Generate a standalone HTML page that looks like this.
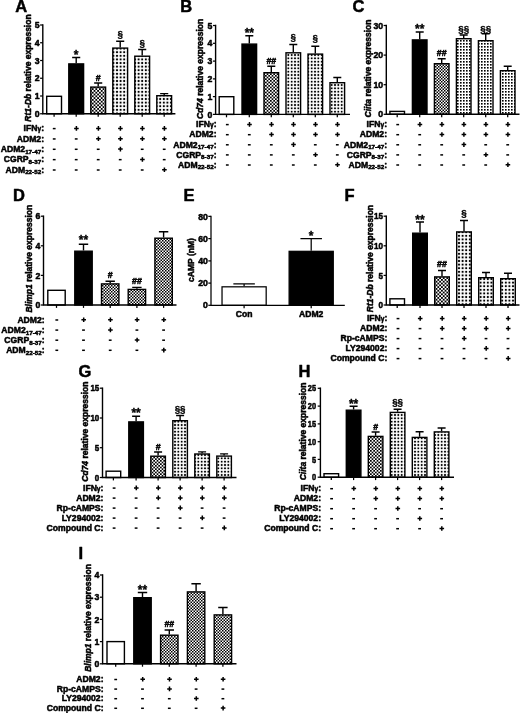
<!DOCTYPE html>
<html lang="en">
<head>
<meta charset="utf-8">
<title>Figure</title>
<style>
html,body{margin:0;padding:0;background:#fff;}
body{width:520px;height:713px;overflow:hidden;}
svg{display:block;}

text{font-family:"Liberation Sans",Arial,Helvetica,sans-serif;fill:#000;stroke:#000;stroke-width:0.5;stroke-linejoin:round;}
.b{font-weight:bold;}
.m{text-anchor:middle;}
.e{text-anchor:end;}
.l{stroke:#000;stroke-width:var(--lw,1.4);fill:none;}
.br{stroke:#000;stroke-width:var(--lw,1.4);}
.ap{stroke-width:0.3;}.ah{stroke-width:0.5;}.as{stroke-width:0.35;}
.tk{stroke:#000;stroke-width:1.25;fill:none;}
.pm{stroke:#000;stroke-width:1.5;fill:none;}
</style>
</head>
<body>
<svg width="520" height="713" viewBox="0 0 520 713">
<defs>
<pattern id="cA" x="0" y="0" width="3.6" height="3.6" patternUnits="userSpaceOnUse"><rect width="3.6" height="3.6" fill="#fff"/><rect width="1.8" height="1.8" fill="#000"/><rect x="1.8" y="1.8" width="1.8" height="1.8" fill="#000"/></pattern>
<pattern id="dA" width="3.6" height="3.6" patternUnits="userSpaceOnUse"><rect width="3.6" height="3.6" fill="#fff"/><rect x="0.83" y="0.83" width="1.94" height="1.94" fill="#000"/></pattern>
<pattern id="cB" x="0" y="0" width="3.3333" height="3.3333" patternUnits="userSpaceOnUse"><rect width="3.3333" height="3.3333" fill="#fff"/><rect width="1.67" height="1.67" fill="#000"/><rect x="1.67" y="1.67" width="1.67" height="1.67" fill="#000"/></pattern>
<pattern id="dB" width="3.3333" height="3.3333" patternUnits="userSpaceOnUse"><rect width="3.3333" height="3.3333" fill="#fff"/><rect x="0.77" y="0.77" width="1.8" height="1.8" fill="#000"/></pattern>
<pattern id="cC" x="0" y="0" width="3.0" height="3.0" patternUnits="userSpaceOnUse"><rect width="3.0" height="3.0" fill="#fff"/><rect width="1.5" height="1.5" fill="#000"/><rect x="1.5" y="1.5" width="1.5" height="1.5" fill="#000"/></pattern>
<pattern id="dC" width="3.0" height="3.0" patternUnits="userSpaceOnUse"><rect width="3.0" height="3.0" fill="#fff"/><rect x="1.0" y="1.0" width="1.62" height="1.62" fill="#000"/></pattern>
<pattern id="cD" x="0" y="0" width="3.0" height="3.0" patternUnits="userSpaceOnUse"><rect width="3.0" height="3.0" fill="#fff"/><rect width="1.5" height="1.5" fill="#000"/><rect x="1.5" y="1.5" width="1.5" height="1.5" fill="#000"/></pattern>
<pattern id="dD" width="3.0" height="3.0" patternUnits="userSpaceOnUse"><rect width="3.0" height="3.0" fill="#fff"/><rect x="1.0" y="1.0" width="1.62" height="1.62" fill="#000"/></pattern>
<pattern id="cF" x="0" y="0" width="3.6" height="3.6" patternUnits="userSpaceOnUse"><rect width="3.6" height="3.6" fill="#fff"/><rect width="1.8" height="1.8" fill="#000"/><rect x="1.8" y="1.8" width="1.8" height="1.8" fill="#000"/></pattern>
<pattern id="dF" width="3.6" height="3.6" patternUnits="userSpaceOnUse"><rect width="3.6" height="3.6" fill="#fff"/><rect x="0.83" y="0.83" width="1.94" height="1.94" fill="#000"/></pattern>
<pattern id="cG" x="0" y="0" width="3.3333" height="3.3333" patternUnits="userSpaceOnUse"><rect width="3.3333" height="3.3333" fill="#fff"/><rect width="1.67" height="1.67" fill="#000"/><rect x="1.67" y="1.67" width="1.67" height="1.67" fill="#000"/></pattern>
<pattern id="dG" width="3.3333" height="3.3333" patternUnits="userSpaceOnUse"><rect width="3.3333" height="3.3333" fill="#fff"/><rect x="0.77" y="0.77" width="1.8" height="1.8" fill="#000"/></pattern>
<pattern id="cH" x="0" y="0" width="3.3333" height="3.3333" patternUnits="userSpaceOnUse"><rect width="3.3333" height="3.3333" fill="#fff"/><rect width="1.67" height="1.67" fill="#000"/><rect x="1.67" y="1.67" width="1.67" height="1.67" fill="#000"/></pattern>
<pattern id="dH" width="3.3333" height="3.3333" patternUnits="userSpaceOnUse"><rect width="3.3333" height="3.3333" fill="#fff"/><rect x="0.77" y="0.77" width="1.8" height="1.8" fill="#000"/></pattern>
<pattern id="cI" x="0" y="0" width="3.0" height="3.0" patternUnits="userSpaceOnUse"><rect width="3.0" height="3.0" fill="#fff"/><rect width="1.5" height="1.5" fill="#000"/><rect x="1.5" y="1.5" width="1.5" height="1.5" fill="#000"/></pattern>
<pattern id="dI" width="3.0" height="3.0" patternUnits="userSpaceOnUse"><rect width="3.0" height="3.0" fill="#fff"/><rect x="1.0" y="1.0" width="1.62" height="1.62" fill="#000"/></pattern>
</defs>
<rect width="520" height="713" fill="#fff"/>
<g id="fig">
<g>
<text x="15.2" y="12.2" font-size="16.5" class="b">A</text>
<rect x="46.7" y="96.3" width="14.8" height="17.45" fill="#fff" class="br"/>
<path d="M54.1 113.75v2.9" class="tk"/>
<path d="M76.2 63.2V57.5M72.15 57.5H80.25" class="l"/>
<rect x="68.8" y="63.9" width="14.8" height="49.85" fill="#000" class="br"/>
<text x="76.2" y="59.22" font-size="12" class="b m as">*</text>
<path d="M76.2 113.75v2.9" class="tk"/>
<path d="M98.2 86.4V83M94.15 83H102.25" class="l"/>
<rect x="90.8" y="87.1" width="14.8" height="26.65" fill="url(#cA)" class="br"/>
<text x="98.2" y="80.5" font-size="8.8" class="b m ah">#</text>
<path d="M98.2 113.75v2.9" class="tk"/>
<path d="M120.2 47.4V41.2M116.15 41.2H124.25" class="l"/>
<rect x="112.8" y="48.1" width="14.8" height="65.65" fill="url(#dA)" class="br"/>
<text x="120.2" y="36.93" font-size="9.8" class="b m ap">&#167;</text>
<path d="M120.2 113.75v2.9" class="tk"/>
<path d="M142.2 55.5V49.5M138.15 49.5H146.25" class="l"/>
<rect x="134.8" y="56.2" width="14.8" height="57.55" fill="url(#dA)" class="br"/>
<text x="142.2" y="45.63" font-size="9.8" class="b m ap">&#167;</text>
<path d="M142.2 113.75v2.9" class="tk"/>
<path d="M164.2 95V93.6M160.15 93.6H168.25" class="l"/>
<rect x="156.8" y="95.7" width="14.8" height="18.05" fill="url(#dA)" class="br"/>
<path d="M164.2 113.75v2.9" class="tk"/>
<path d="M42.8 24.3V113.75M42.1 113.75H175.4" class="l"/>
<path d="M42.8 25h-2.7" class="tk"/>
<text transform="translate(39.6 28.1) scale(1.0 1)" font-size="8.7" class="b e">5</text>
<path d="M42.8 42.75h-2.7" class="tk"/>
<text transform="translate(39.6 45.85) scale(1.0 1)" font-size="8.7" class="b e">4</text>
<path d="M42.8 60.5h-2.7" class="tk"/>
<text transform="translate(39.6 63.6) scale(1.0 1)" font-size="8.7" class="b e">3</text>
<path d="M42.8 78.25h-2.7" class="tk"/>
<text transform="translate(39.6 81.35) scale(1.0 1)" font-size="8.7" class="b e">2</text>
<path d="M42.8 96h-2.7" class="tk"/>
<text transform="translate(39.6 99.1) scale(1.0 1)" font-size="8.7" class="b e">1</text>
<path d="M42.8 113.75h-2.7" class="tk"/>
<text transform="translate(39.6 116.85) scale(1.0 1)" font-size="8.7" class="b e">0</text>
<text transform="translate(31.3 68) rotate(-90)" font-size="8.5" class="b m"><tspan font-style="italic">Rt1-Db</tspan> relative expression</text>
<text x="44" y="131.3" font-size="8.6" class="b e">IFN<tspan font-size="6.6">&#947;</tspan>:</text>
<path d="M52.8 128.6h2.8" class="pm"/>
<path d="M74.1 128.4h4.6M76.4 126.1v4.6" class="pm"/>
<path d="M96.1 128.4h4.6M98.4 126.1v4.6" class="pm"/>
<path d="M118.1 128.4h4.6M120.4 126.1v4.6" class="pm"/>
<path d="M140.1 128.4h4.6M142.4 126.1v4.6" class="pm"/>
<path d="M162.1 128.4h4.6M164.4 126.1v4.6" class="pm"/>
<text x="44" y="141.65" font-size="8.6" class="b e">ADM2:</text>
<path d="M52.8 138.95h2.8" class="pm"/>
<path d="M74.8 138.95h2.8" class="pm"/>
<path d="M96.1 138.75h4.6M98.4 136.45v4.6" class="pm"/>
<path d="M118.1 138.75h4.6M120.4 136.45v4.6" class="pm"/>
<path d="M140.1 138.75h4.6M142.4 136.45v4.6" class="pm"/>
<path d="M162.1 138.75h4.6M164.4 136.45v4.6" class="pm"/>
<text x="44" y="152" font-size="8.6" class="b e">ADM2<tspan font-size="6.25" dy="1.7">17-47</tspan><tspan dy="-1.7">:</tspan></text>
<path d="M52.8 149.3h2.8" class="pm"/>
<path d="M74.8 149.3h2.8" class="pm"/>
<path d="M96.8 149.3h2.8" class="pm"/>
<path d="M118.1 149.1h4.6M120.4 146.8v4.6" class="pm"/>
<path d="M140.8 149.3h2.8" class="pm"/>
<path d="M162.8 149.3h2.8" class="pm"/>
<text x="44" y="162.35" font-size="8.6" class="b e">CGRP<tspan font-size="6.25" dy="1.7">8-37</tspan><tspan dy="-1.7">:</tspan></text>
<path d="M52.8 159.65h2.8" class="pm"/>
<path d="M74.8 159.65h2.8" class="pm"/>
<path d="M96.8 159.65h2.8" class="pm"/>
<path d="M118.8 159.65h2.8" class="pm"/>
<path d="M140.1 159.45h4.6M142.4 157.15v4.6" class="pm"/>
<path d="M162.8 159.65h2.8" class="pm"/>
<text x="44" y="172.7" font-size="8.6" class="b e">ADM<tspan font-size="6.25" dy="1.7">22-52</tspan><tspan dy="-1.7">:</tspan></text>
<path d="M52.8 170h2.8" class="pm"/>
<path d="M74.8 170h2.8" class="pm"/>
<path d="M96.8 170h2.8" class="pm"/>
<path d="M118.8 170h2.8" class="pm"/>
<path d="M140.8 170h2.8" class="pm"/>
<path d="M162.1 169.8h4.6M164.4 167.5v4.6" class="pm"/>
</g>
<g>
<text x="180.3" y="12.2" font-size="16.5" class="b">B</text>
<rect x="219.2" y="96.7" width="14.6" height="17.7" fill="#fff" class="br"/>
<path d="M226.5 114.4v2.9" class="tk"/>
<path d="M249.3 43.4V35.8M245.3 35.8H253.3" class="l"/>
<rect x="242" y="44.1" width="14.6" height="70.3" fill="#000" class="br"/>
<text x="249.3" y="36.72" font-size="12" class="b m as">**</text>
<path d="M249.3 114.4v2.9" class="tk"/>
<path d="M271.3 72V66.2M267.3 66.2H275.3" class="l"/>
<rect x="264" y="72.7" width="14.6" height="41.7" fill="url(#cB)" class="br"/>
<text x="271.3" y="63.7" font-size="8.8" class="b m ah">##</text>
<path d="M271.3 114.4v2.9" class="tk"/>
<path d="M293.3 52.1V44.5M289.3 44.5H297.3" class="l"/>
<rect x="286" y="52.8" width="14.6" height="61.6" fill="url(#dB)" class="br"/>
<text x="293.3" y="40.03" font-size="9.8" class="b m ap">&#167;</text>
<path d="M293.3 114.4v2.9" class="tk"/>
<path d="M315.3 53.4V46.2M311.3 46.2H319.3" class="l"/>
<rect x="308" y="54.1" width="14.6" height="60.3" fill="url(#dB)" class="br"/>
<text x="315.3" y="40.63" font-size="9.8" class="b m ap">&#167;</text>
<path d="M315.3 114.4v2.9" class="tk"/>
<path d="M337.3 82V77.5M333.3 77.5H341.3" class="l"/>
<rect x="330" y="82.7" width="14.6" height="31.7" fill="url(#dB)" class="br"/>
<path d="M337.3 114.4v2.9" class="tk"/>
<path d="M215.6 24.8V114.4M214.9 114.4H350" class="l"/>
<path d="M215.6 25.5h-2.7" class="tk"/>
<text transform="translate(212.4 28.6) scale(1.0 1)" font-size="8.7" class="b e">5</text>
<path d="M215.6 43.3h-2.7" class="tk"/>
<text transform="translate(212.4 46.4) scale(1.0 1)" font-size="8.7" class="b e">4</text>
<path d="M215.6 61.1h-2.7" class="tk"/>
<text transform="translate(212.4 64.2) scale(1.0 1)" font-size="8.7" class="b e">3</text>
<path d="M215.6 78.9h-2.7" class="tk"/>
<text transform="translate(212.4 82) scale(1.0 1)" font-size="8.7" class="b e">2</text>
<path d="M215.6 96.6h-2.7" class="tk"/>
<text transform="translate(212.4 99.7) scale(1.0 1)" font-size="8.7" class="b e">1</text>
<path d="M215.6 114.4h-2.7" class="tk"/>
<text transform="translate(212.4 117.5) scale(1.0 1)" font-size="8.7" class="b e">0</text>
<text transform="translate(202.6 68.9) rotate(-90)" font-size="8.5" class="b m"><tspan font-style="italic">Cd74</tspan> relative expression</text>
<text x="216.5" y="127.3" font-size="8.6" class="b e">IFN<tspan font-size="6.6">&#947;</tspan>:</text>
<path d="M225.9 124.6h2.8" class="pm"/>
<path d="M247.2 124.4h4.6M249.5 122.1v4.6" class="pm"/>
<path d="M269.2 124.4h4.6M271.5 122.1v4.6" class="pm"/>
<path d="M291.2 124.4h4.6M293.5 122.1v4.6" class="pm"/>
<path d="M313.2 124.4h4.6M315.5 122.1v4.6" class="pm"/>
<path d="M335.2 124.4h4.6M337.5 122.1v4.6" class="pm"/>
<text x="216.5" y="137.4" font-size="8.6" class="b e">ADM2:</text>
<path d="M225.9 134.7h2.8" class="pm"/>
<path d="M247.9 134.7h2.8" class="pm"/>
<path d="M269.2 134.5h4.6M271.5 132.2v4.6" class="pm"/>
<path d="M291.2 134.5h4.6M293.5 132.2v4.6" class="pm"/>
<path d="M313.2 134.5h4.6M315.5 132.2v4.6" class="pm"/>
<path d="M335.2 134.5h4.6M337.5 132.2v4.6" class="pm"/>
<text x="216.5" y="147.5" font-size="8.6" class="b e">ADM2<tspan font-size="6.25" dy="1.7">17-47</tspan><tspan dy="-1.7">:</tspan></text>
<path d="M225.9 144.8h2.8" class="pm"/>
<path d="M247.9 144.8h2.8" class="pm"/>
<path d="M269.9 144.8h2.8" class="pm"/>
<path d="M291.2 144.6h4.6M293.5 142.3v4.6" class="pm"/>
<path d="M313.9 144.8h2.8" class="pm"/>
<path d="M335.9 144.8h2.8" class="pm"/>
<text x="216.5" y="157.6" font-size="8.6" class="b e">CGRP<tspan font-size="6.25" dy="1.7">8-37</tspan><tspan dy="-1.7">:</tspan></text>
<path d="M225.9 154.9h2.8" class="pm"/>
<path d="M247.9 154.9h2.8" class="pm"/>
<path d="M269.9 154.9h2.8" class="pm"/>
<path d="M291.9 154.9h2.8" class="pm"/>
<path d="M313.2 154.7h4.6M315.5 152.4v4.6" class="pm"/>
<path d="M335.9 154.9h2.8" class="pm"/>
<text x="216.5" y="167.7" font-size="8.6" class="b e">ADM<tspan font-size="6.25" dy="1.7">22-52</tspan><tspan dy="-1.7">:</tspan></text>
<path d="M225.9 165h2.8" class="pm"/>
<path d="M247.9 165h2.8" class="pm"/>
<path d="M269.9 165h2.8" class="pm"/>
<path d="M291.9 165h2.8" class="pm"/>
<path d="M313.9 165h2.8" class="pm"/>
<path d="M335.2 164.8h4.6M337.5 162.5v4.6" class="pm"/>
</g>
<g>
<text x="352.6" y="12.1" font-size="16.5" class="b">C</text>
<rect x="389.9" y="111.4" width="14.6" height="2.9" fill="#fff" class="br"/>
<path d="M397.2 114.3v2.9" class="tk"/>
<path d="M419.7 39.2V32M415.7 32H423.7" class="l"/>
<rect x="412.4" y="39.9" width="14.6" height="74.4" fill="#000" class="br"/>
<text x="419.7" y="33.02" font-size="12" class="b m as">**</text>
<path d="M419.7 114.3v2.9" class="tk"/>
<path d="M441.7 63V58.7M437.7 58.7H445.7" class="l"/>
<rect x="434.4" y="63.7" width="14.6" height="50.6" fill="url(#cC)" class="br"/>
<text x="441.7" y="55.5" font-size="8.8" class="b m ah">##</text>
<path d="M441.7 114.3v2.9" class="tk"/>
<path d="M463.7 38V35M459.7 35H467.7" class="l"/>
<rect x="456.4" y="38.7" width="14.6" height="75.6" fill="url(#dC)" class="br"/>
<text x="463.7" y="32.33" font-size="9.8" class="b m ap">&#167;&#167;</text>
<path d="M463.7 114.3v2.9" class="tk"/>
<path d="M485.7 40V33.7M481.7 33.7H489.7" class="l"/>
<rect x="478.4" y="40.7" width="14.6" height="73.6" fill="url(#dC)" class="br"/>
<text x="485.7" y="32.33" font-size="9.8" class="b m ap">&#167;&#167;</text>
<path d="M485.7 114.3v2.9" class="tk"/>
<path d="M507.7 70V66.2M503.7 66.2H511.7" class="l"/>
<rect x="500.4" y="70.7" width="14.6" height="43.6" fill="url(#dC)" class="br"/>
<path d="M507.7 114.3v2.9" class="tk"/>
<path d="M386.3 24.8V114.3M385.6 114.3H519.5" class="l"/>
<path d="M386.3 25.5h-2.7" class="tk"/>
<text transform="translate(383.1 28.6) scale(1.0 1)" font-size="8.7" class="b e">30</text>
<path d="M386.3 55.1h-2.7" class="tk"/>
<text transform="translate(383.1 58.2) scale(1.0 1)" font-size="8.7" class="b e">20</text>
<path d="M386.3 84.7h-2.7" class="tk"/>
<text transform="translate(383.1 87.8) scale(1.0 1)" font-size="8.7" class="b e">10</text>
<path d="M386.3 114.3h-2.7" class="tk"/>
<text transform="translate(383.1 117.4) scale(1.0 1)" font-size="8.7" class="b e">0</text>
<text transform="translate(371.3 68.5) rotate(-90)" font-size="8.5" class="b m"><tspan font-style="italic">Ciita</tspan> relative expression</text>
<text x="387" y="127.3" font-size="8.6" class="b e">IFN<tspan font-size="6.6">&#947;</tspan>:</text>
<path d="M396.3 124.6h2.8" class="pm"/>
<path d="M417.6 124.4h4.6M419.9 122.1v4.6" class="pm"/>
<path d="M439.6 124.4h4.6M441.9 122.1v4.6" class="pm"/>
<path d="M461.6 124.4h4.6M463.9 122.1v4.6" class="pm"/>
<path d="M483.6 124.4h4.6M485.9 122.1v4.6" class="pm"/>
<path d="M505.6 124.4h4.6M507.9 122.1v4.6" class="pm"/>
<text x="387" y="137.4" font-size="8.6" class="b e">ADM2:</text>
<path d="M396.3 134.7h2.8" class="pm"/>
<path d="M418.3 134.7h2.8" class="pm"/>
<path d="M439.6 134.5h4.6M441.9 132.2v4.6" class="pm"/>
<path d="M461.6 134.5h4.6M463.9 132.2v4.6" class="pm"/>
<path d="M483.6 134.5h4.6M485.9 132.2v4.6" class="pm"/>
<path d="M505.6 134.5h4.6M507.9 132.2v4.6" class="pm"/>
<text x="387" y="147.5" font-size="8.6" class="b e">ADM2<tspan font-size="6.25" dy="1.7">17-47</tspan><tspan dy="-1.7">:</tspan></text>
<path d="M396.3 144.8h2.8" class="pm"/>
<path d="M418.3 144.8h2.8" class="pm"/>
<path d="M440.3 144.8h2.8" class="pm"/>
<path d="M461.6 144.6h4.6M463.9 142.3v4.6" class="pm"/>
<path d="M484.3 144.8h2.8" class="pm"/>
<path d="M506.3 144.8h2.8" class="pm"/>
<text x="387" y="157.6" font-size="8.6" class="b e">CGRP<tspan font-size="6.25" dy="1.7">8-37</tspan><tspan dy="-1.7">:</tspan></text>
<path d="M396.3 154.9h2.8" class="pm"/>
<path d="M418.3 154.9h2.8" class="pm"/>
<path d="M440.3 154.9h2.8" class="pm"/>
<path d="M462.3 154.9h2.8" class="pm"/>
<path d="M483.6 154.7h4.6M485.9 152.4v4.6" class="pm"/>
<path d="M506.3 154.9h2.8" class="pm"/>
<text x="387" y="167.7" font-size="8.6" class="b e">ADM<tspan font-size="6.25" dy="1.7">22-52</tspan><tspan dy="-1.7">:</tspan></text>
<path d="M396.3 165h2.8" class="pm"/>
<path d="M418.3 165h2.8" class="pm"/>
<path d="M440.3 165h2.8" class="pm"/>
<path d="M462.3 165h2.8" class="pm"/>
<path d="M484.3 165h2.8" class="pm"/>
<path d="M505.6 164.8h4.6M507.9 162.5v4.6" class="pm"/>
</g>
<g>
<text x="13" y="201.2" font-size="16.5" class="b">D</text>
<rect x="47.8" y="290.3" width="17.4" height="14.7" fill="#fff" class="br"/>
<path d="M56.5 305v2.9" class="tk"/>
<path d="M83.5 250.5V244.2M78.8 244.2H88.2" class="l"/>
<rect x="74.8" y="251.2" width="17.4" height="53.8" fill="#000" class="br"/>
<text x="83.5" y="243.82" font-size="12" class="b m as">**</text>
<path d="M83.5 305v2.9" class="tk"/>
<path d="M110.2 283.2V281.2M105.5 281.2H114.9" class="l"/>
<rect x="101.5" y="283.9" width="17.4" height="21.1" fill="url(#cD)" class="br"/>
<text x="110.2" y="278.4" font-size="8.8" class="b m ah">#</text>
<path d="M110.2 305v2.9" class="tk"/>
<path d="M136.9 288.7V287.4M132.2 287.4H141.6" class="l"/>
<rect x="128.2" y="289.4" width="17.4" height="15.6" fill="url(#cD)" class="br"/>
<text x="136.9" y="283.8" font-size="8.8" class="b m ah">##</text>
<path d="M136.9 305v2.9" class="tk"/>
<path d="M163.6 237.5V231.7M158.9 231.7H168.3" class="l"/>
<rect x="154.9" y="238.2" width="17.4" height="66.8" fill="url(#cD)" class="br"/>
<path d="M163.6 305v2.9" class="tk"/>
<path d="M43.5 215.5V305M42.8 305H176.5" class="l"/>
<path d="M43.5 216.2h-2.7" class="tk"/>
<text transform="translate(40.3 219.3) scale(1.0 1)" font-size="8.7" class="b e">6</text>
<path d="M43.5 245.8h-2.7" class="tk"/>
<text transform="translate(40.3 248.9) scale(1.0 1)" font-size="8.7" class="b e">4</text>
<path d="M43.5 275.4h-2.7" class="tk"/>
<text transform="translate(40.3 278.5) scale(1.0 1)" font-size="8.7" class="b e">2</text>
<path d="M43.5 305h-2.7" class="tk"/>
<text transform="translate(40.3 308.1) scale(1.0 1)" font-size="8.7" class="b e">0</text>
<text transform="translate(32.3 258.7) rotate(-90)" font-size="8.5" class="b m"><tspan font-style="italic">Blimp1</tspan> relative expression</text>
<text x="44.6" y="322.7" font-size="8.6" class="b e">ADM2:</text>
<path d="M55.4 320h2.8" class="pm"/>
<path d="M81.4 319.8h4.6M83.7 317.5v4.6" class="pm"/>
<path d="M108.1 319.8h4.6M110.4 317.5v4.6" class="pm"/>
<path d="M134.8 319.8h4.6M137.1 317.5v4.6" class="pm"/>
<path d="M161.5 319.8h4.6M163.8 317.5v4.6" class="pm"/>
<text x="44.6" y="332.8" font-size="8.6" class="b e">ADM2<tspan font-size="6.25" dy="1.7">17-47</tspan><tspan dy="-1.7">:</tspan></text>
<path d="M55.4 330.1h2.8" class="pm"/>
<path d="M82.1 330.1h2.8" class="pm"/>
<path d="M108.1 329.9h4.6M110.4 327.6v4.6" class="pm"/>
<path d="M135.5 330.1h2.8" class="pm"/>
<path d="M162.2 330.1h2.8" class="pm"/>
<text x="44.6" y="342.9" font-size="8.6" class="b e">CGRP<tspan font-size="6.25" dy="1.7">8-37</tspan><tspan dy="-1.7">:</tspan></text>
<path d="M55.4 340.2h2.8" class="pm"/>
<path d="M82.1 340.2h2.8" class="pm"/>
<path d="M108.8 340.2h2.8" class="pm"/>
<path d="M134.8 340h4.6M137.1 337.7v4.6" class="pm"/>
<path d="M162.2 340.2h2.8" class="pm"/>
<text x="44.6" y="353" font-size="8.6" class="b e">ADM<tspan font-size="6.25" dy="1.7">22-52</tspan><tspan dy="-1.7">:</tspan></text>
<path d="M55.4 350.3h2.8" class="pm"/>
<path d="M82.1 350.3h2.8" class="pm"/>
<path d="M108.8 350.3h2.8" class="pm"/>
<path d="M135.5 350.3h2.8" class="pm"/>
<path d="M161.5 350.1h4.6M163.8 347.8v4.6" class="pm"/>
</g>
<g style="--lw:1.25">
<text x="183.4" y="201.2" font-size="16.5" class="b">E</text>
<path d="M244.1 286.2V283.8M233.35 283.8H254.85" class="l"/>
<rect x="222.03" y="286.82" width="44.15" height="18.48" fill="#fff" class="br"/>
<path d="M244.1 305.3v2.9" class="tk"/>
<path d="M311.2 250.7V238.7M300.45 238.7H321.95" class="l"/>
<rect x="289.12" y="251.32" width="44.15" height="53.98" fill="#000" class="br"/>
<text x="311.2" y="240.42" font-size="12" class="b m as">*</text>
<path d="M311.2 305.3v2.9" class="tk"/>
<path d="M211 215.78V305.3M210.38 305.3H344.8" class="l"/>
<path d="M211 216.4h-2.7" class="tk"/>
<text transform="translate(207.8 219.5) scale(1.0 1)" font-size="8.7" class="b e">80</text>
<path d="M211 238.6h-2.7" class="tk"/>
<text transform="translate(207.8 241.7) scale(1.0 1)" font-size="8.7" class="b e">60</text>
<path d="M211 260.9h-2.7" class="tk"/>
<text transform="translate(207.8 264) scale(1.0 1)" font-size="8.7" class="b e">40</text>
<path d="M211 283.1h-2.7" class="tk"/>
<text transform="translate(207.8 286.2) scale(1.0 1)" font-size="8.7" class="b e">20</text>
<path d="M211 305.3h-2.7" class="tk"/>
<text transform="translate(207.8 308.4) scale(1.0 1)" font-size="8.7" class="b e">0</text>
<text transform="translate(193.8 260) rotate(-90)" font-size="8.5" class="b m">cAMP (nM)</text>
<text x="244.1" y="317.1" font-size="8.6" class="b m">Con</text>
<text x="311.2" y="317.1" font-size="8.6" class="b m">ADM2</text>
</g>
<g>
<text x="344.6" y="201.2" font-size="16.5" class="b">F</text>
<rect x="389.9" y="298.8" width="14.6" height="6.2" fill="#fff" class="br"/>
<path d="M397.2 305v2.9" class="tk"/>
<path d="M420 232.5V222M416 222H424" class="l"/>
<rect x="412.7" y="233.2" width="14.6" height="71.8" fill="#000" class="br"/>
<text x="420" y="223.62" font-size="12" class="b m as">**</text>
<path d="M420 305v2.9" class="tk"/>
<path d="M442 276.2V270.5M438 270.5H446" class="l"/>
<rect x="434.7" y="276.9" width="14.6" height="28.1" fill="url(#cF)" class="br"/>
<text x="442" y="267" font-size="8.8" class="b m ah">##</text>
<path d="M442 305v2.9" class="tk"/>
<path d="M464 231.2V220.5M460 220.5H468" class="l"/>
<rect x="456.7" y="231.9" width="14.6" height="73.1" fill="url(#dF)" class="br"/>
<text x="464" y="216.43" font-size="9.8" class="b m ap">&#167;</text>
<path d="M464 305v2.9" class="tk"/>
<path d="M486 277V272.5M482 272.5H490" class="l"/>
<rect x="478.7" y="277.7" width="14.6" height="27.3" fill="url(#dF)" class="br"/>
<path d="M486 305v2.9" class="tk"/>
<path d="M508 278V273.2M504 273.2H512" class="l"/>
<rect x="500.7" y="278.7" width="14.6" height="26.3" fill="url(#dF)" class="br"/>
<path d="M508 305v2.9" class="tk"/>
<path d="M386.3 215.5V305M385.6 305H519.5" class="l"/>
<path d="M386.3 216.2h-2.7" class="tk"/>
<text transform="translate(383.1 219.3) scale(0.93 1)" font-size="8.7" class="b e">15</text>
<path d="M386.3 245.8h-2.7" class="tk"/>
<text transform="translate(383.1 248.9) scale(0.93 1)" font-size="8.7" class="b e">10</text>
<path d="M386.3 275.4h-2.7" class="tk"/>
<text transform="translate(383.1 278.5) scale(0.93 1)" font-size="8.7" class="b e">5</text>
<path d="M386.3 305h-2.7" class="tk"/>
<text transform="translate(383.1 308.1) scale(0.93 1)" font-size="8.7" class="b e">0</text>
<text transform="translate(373.2 258.6) rotate(-90)" font-size="8.5" class="b m"><tspan font-style="italic">Rt1-Db</tspan> relative expression</text>
<text x="387.3" y="321.3" font-size="8.6" class="b e">IFN<tspan font-size="6.6">&#947;</tspan>:</text>
<path d="M396.6 318.6h2.8" class="pm"/>
<path d="M417.9 318.4h4.6M420.2 316.1v4.6" class="pm"/>
<path d="M439.9 318.4h4.6M442.2 316.1v4.6" class="pm"/>
<path d="M461.9 318.4h4.6M464.2 316.1v4.6" class="pm"/>
<path d="M483.9 318.4h4.6M486.2 316.1v4.6" class="pm"/>
<path d="M505.9 318.4h4.6M508.2 316.1v4.6" class="pm"/>
<text x="387.3" y="331.3" font-size="8.6" class="b e">ADM2:</text>
<path d="M396.6 328.6h2.8" class="pm"/>
<path d="M418.6 328.6h2.8" class="pm"/>
<path d="M439.9 328.4h4.6M442.2 326.1v4.6" class="pm"/>
<path d="M461.9 328.4h4.6M464.2 326.1v4.6" class="pm"/>
<path d="M483.9 328.4h4.6M486.2 326.1v4.6" class="pm"/>
<path d="M505.9 328.4h4.6M508.2 326.1v4.6" class="pm"/>
<text x="387.3" y="341.3" font-size="8.6" class="b e">Rp-cAMPS:</text>
<path d="M396.6 338.6h2.8" class="pm"/>
<path d="M418.6 338.6h2.8" class="pm"/>
<path d="M440.6 338.6h2.8" class="pm"/>
<path d="M461.9 338.4h4.6M464.2 336.1v4.6" class="pm"/>
<path d="M484.6 338.6h2.8" class="pm"/>
<path d="M506.6 338.6h2.8" class="pm"/>
<text x="387.3" y="351.3" font-size="8.6" class="b e">LY294002:</text>
<path d="M396.6 348.6h2.8" class="pm"/>
<path d="M418.6 348.6h2.8" class="pm"/>
<path d="M440.6 348.6h2.8" class="pm"/>
<path d="M462.6 348.6h2.8" class="pm"/>
<path d="M483.9 348.4h4.6M486.2 346.1v4.6" class="pm"/>
<path d="M506.6 348.6h2.8" class="pm"/>
<text x="387.3" y="361.3" font-size="8.6" class="b e">Compound C:</text>
<path d="M396.6 358.6h2.8" class="pm"/>
<path d="M418.6 358.6h2.8" class="pm"/>
<path d="M440.6 358.6h2.8" class="pm"/>
<path d="M462.6 358.6h2.8" class="pm"/>
<path d="M484.6 358.6h2.8" class="pm"/>
<path d="M505.9 358.4h4.6M508.2 356.1v4.6" class="pm"/>
</g>
<g>
<text x="78.5" y="377.1" font-size="16.5" class="b">G</text>
<rect x="106.1" y="471.2" width="14.6" height="6.3" fill="#fff" class="br"/>
<path d="M113.4 477.5v2.9" class="tk"/>
<path d="M136.1 421.2V416.2M132.1 416.2H140.1" class="l"/>
<rect x="128.8" y="421.9" width="14.6" height="55.6" fill="#000" class="br"/>
<text x="136.1" y="417.22" font-size="12" class="b m as">**</text>
<path d="M136.1 477.5v2.9" class="tk"/>
<path d="M158.1 455.5V452M154.1 452H162.1" class="l"/>
<rect x="150.8" y="456.2" width="14.6" height="21.3" fill="url(#cG)" class="br"/>
<text x="158.1" y="449.5" font-size="8.8" class="b m ah">#</text>
<path d="M158.1 477.5v2.9" class="tk"/>
<path d="M180.1 420V415.5M176.1 415.5H184.1" class="l"/>
<rect x="172.8" y="420.7" width="14.6" height="56.8" fill="url(#dG)" class="br"/>
<text x="180.1" y="412.33" font-size="9.8" class="b m ap">&#167;&#167;</text>
<path d="M180.1 477.5v2.9" class="tk"/>
<path d="M202.1 453.3V451.9M198.1 451.9H206.1" class="l"/>
<rect x="194.8" y="454" width="14.6" height="23.5" fill="url(#dG)" class="br"/>
<path d="M202.1 477.5v2.9" class="tk"/>
<path d="M224.1 455.4V453.9M220.1 453.9H228.1" class="l"/>
<rect x="216.8" y="456.1" width="14.6" height="21.4" fill="url(#dG)" class="br"/>
<path d="M224.1 477.5v2.9" class="tk"/>
<path d="M102.5 387.5V477.5M101.8 477.5H236.5" class="l"/>
<path d="M102.5 388.2h-2.7" class="tk"/>
<text transform="translate(99.3 391.3) scale(0.92 1)" font-size="8.7" class="b e">15</text>
<path d="M102.5 418h-2.7" class="tk"/>
<text transform="translate(99.3 421.1) scale(0.92 1)" font-size="8.7" class="b e">10</text>
<path d="M102.5 447.7h-2.7" class="tk"/>
<text transform="translate(99.3 450.8) scale(0.92 1)" font-size="8.7" class="b e">5</text>
<path d="M102.5 477.5h-2.7" class="tk"/>
<text transform="translate(99.3 480.6) scale(0.92 1)" font-size="8.7" class="b e">0</text>
<text transform="translate(87.7 431.6) rotate(-90)" font-size="8.5" class="b m"><tspan font-style="italic">Cd74</tspan> relative expression</text>
<text x="103.4" y="490.8" font-size="8.6" class="b e">IFN<tspan font-size="6.6">&#947;</tspan>:</text>
<path d="M112.7 488.1h2.8" class="pm"/>
<path d="M134 487.9h4.6M136.3 485.6v4.6" class="pm"/>
<path d="M156 487.9h4.6M158.3 485.6v4.6" class="pm"/>
<path d="M178 487.9h4.6M180.3 485.6v4.6" class="pm"/>
<path d="M200 487.9h4.6M202.3 485.6v4.6" class="pm"/>
<path d="M222 487.9h4.6M224.3 485.6v4.6" class="pm"/>
<text x="103.4" y="500.8" font-size="8.6" class="b e">ADM2:</text>
<path d="M112.7 498.1h2.8" class="pm"/>
<path d="M134.7 498.1h2.8" class="pm"/>
<path d="M156 497.9h4.6M158.3 495.6v4.6" class="pm"/>
<path d="M178 497.9h4.6M180.3 495.6v4.6" class="pm"/>
<path d="M200 497.9h4.6M202.3 495.6v4.6" class="pm"/>
<path d="M222 497.9h4.6M224.3 495.6v4.6" class="pm"/>
<text x="103.4" y="510.8" font-size="8.6" class="b e">Rp-cAMPS:</text>
<path d="M112.7 508.1h2.8" class="pm"/>
<path d="M134.7 508.1h2.8" class="pm"/>
<path d="M156.7 508.1h2.8" class="pm"/>
<path d="M178 507.9h4.6M180.3 505.6v4.6" class="pm"/>
<path d="M200.7 508.1h2.8" class="pm"/>
<path d="M222.7 508.1h2.8" class="pm"/>
<text x="103.4" y="520.8" font-size="8.6" class="b e">LY294002:</text>
<path d="M112.7 518.1h2.8" class="pm"/>
<path d="M134.7 518.1h2.8" class="pm"/>
<path d="M156.7 518.1h2.8" class="pm"/>
<path d="M178.7 518.1h2.8" class="pm"/>
<path d="M200 517.9h4.6M202.3 515.6v4.6" class="pm"/>
<path d="M222.7 518.1h2.8" class="pm"/>
<text x="103.4" y="530.8" font-size="8.6" class="b e">Compound C:</text>
<path d="M112.7 528.1h2.8" class="pm"/>
<path d="M134.7 528.1h2.8" class="pm"/>
<path d="M156.7 528.1h2.8" class="pm"/>
<path d="M178.7 528.1h2.8" class="pm"/>
<path d="M200.7 528.1h2.8" class="pm"/>
<path d="M222 527.9h4.6M224.3 525.6v4.6" class="pm"/>
</g>
<g>
<text x="298.4" y="377.1" font-size="16.5" class="b">H</text>
<rect x="324" y="473.7" width="14.6" height="3.5" fill="#fff" class="br"/>
<path d="M331.3 477.2v2.9" class="tk"/>
<path d="M353.6 409.5V406.2M349.6 406.2H357.6" class="l"/>
<rect x="346.3" y="410.2" width="14.6" height="67" fill="#000" class="br"/>
<text x="353.6" y="407.62" font-size="12" class="b m as">**</text>
<path d="M353.6 477.2v2.9" class="tk"/>
<path d="M375.6 435.7V432M371.6 432H379.6" class="l"/>
<rect x="368.3" y="436.4" width="14.6" height="40.8" fill="url(#cH)" class="br"/>
<text x="375.6" y="429.9" font-size="8.8" class="b m ah">#</text>
<path d="M375.6 477.2v2.9" class="tk"/>
<path d="M397.6 411.7V409.2M393.6 409.2H401.6" class="l"/>
<rect x="390.3" y="412.4" width="14.6" height="64.8" fill="url(#dH)" class="br"/>
<text x="397.6" y="404.63" font-size="9.8" class="b m ap">&#167;&#167;</text>
<path d="M397.6 477.2v2.9" class="tk"/>
<path d="M419.6 436.7V431.7M415.6 431.7H423.6" class="l"/>
<rect x="412.3" y="437.4" width="14.6" height="39.8" fill="url(#dH)" class="br"/>
<path d="M419.6 477.2v2.9" class="tk"/>
<path d="M441.6 431.2V428M437.6 428H445.6" class="l"/>
<rect x="434.3" y="431.9" width="14.6" height="45.3" fill="url(#dH)" class="br"/>
<path d="M441.6 477.2v2.9" class="tk"/>
<path d="M320.4 387.6V477.2M319.7 477.2H454" class="l"/>
<path d="M320.4 388.3h-2.7" class="tk"/>
<text transform="translate(316 391.4) scale(0.85 1)" font-size="8.7" class="b e">25</text>
<path d="M320.4 406.1h-2.7" class="tk"/>
<text transform="translate(316 409.2) scale(0.85 1)" font-size="8.7" class="b e">20</text>
<path d="M320.4 423.9h-2.7" class="tk"/>
<text transform="translate(316 427) scale(0.85 1)" font-size="8.7" class="b e">15</text>
<path d="M320.4 441.7h-2.7" class="tk"/>
<text transform="translate(316 444.8) scale(0.85 1)" font-size="8.7" class="b e">10</text>
<path d="M320.4 459.4h-2.7" class="tk"/>
<text transform="translate(316 462.5) scale(0.85 1)" font-size="8.7" class="b e">5</text>
<path d="M320.4 477.2h-2.7" class="tk"/>
<text transform="translate(316 480.3) scale(0.85 1)" font-size="8.7" class="b e">0</text>
<text transform="translate(305.9 431.4) rotate(-90)" font-size="8.5" class="b m"><tspan font-style="italic">Ciita</tspan> relative expression</text>
<text x="321" y="491.4" font-size="8.6" class="b e">IFN<tspan font-size="6.6">&#947;</tspan>:</text>
<path d="M330.2 488.7h2.8" class="pm"/>
<path d="M351.5 488.5h4.6M353.8 486.2v4.6" class="pm"/>
<path d="M373.5 488.5h4.6M375.8 486.2v4.6" class="pm"/>
<path d="M395.5 488.5h4.6M397.8 486.2v4.6" class="pm"/>
<path d="M417.5 488.5h4.6M419.8 486.2v4.6" class="pm"/>
<path d="M439.5 488.5h4.6M441.8 486.2v4.6" class="pm"/>
<text x="321" y="501.4" font-size="8.6" class="b e">ADM2:</text>
<path d="M330.2 498.7h2.8" class="pm"/>
<path d="M352.2 498.7h2.8" class="pm"/>
<path d="M373.5 498.5h4.6M375.8 496.2v4.6" class="pm"/>
<path d="M395.5 498.5h4.6M397.8 496.2v4.6" class="pm"/>
<path d="M417.5 498.5h4.6M419.8 496.2v4.6" class="pm"/>
<path d="M439.5 498.5h4.6M441.8 496.2v4.6" class="pm"/>
<text x="321" y="511.4" font-size="8.6" class="b e">Rp-cAMPS:</text>
<path d="M330.2 508.7h2.8" class="pm"/>
<path d="M352.2 508.7h2.8" class="pm"/>
<path d="M374.2 508.7h2.8" class="pm"/>
<path d="M395.5 508.5h4.6M397.8 506.2v4.6" class="pm"/>
<path d="M418.2 508.7h2.8" class="pm"/>
<path d="M440.2 508.7h2.8" class="pm"/>
<text x="321" y="521.4" font-size="8.6" class="b e">LY294002:</text>
<path d="M330.2 518.7h2.8" class="pm"/>
<path d="M352.2 518.7h2.8" class="pm"/>
<path d="M374.2 518.7h2.8" class="pm"/>
<path d="M396.2 518.7h2.8" class="pm"/>
<path d="M417.5 518.5h4.6M419.8 516.2v4.6" class="pm"/>
<path d="M440.2 518.7h2.8" class="pm"/>
<text x="321" y="531.4" font-size="8.6" class="b e">Compound C:</text>
<path d="M330.2 528.7h2.8" class="pm"/>
<path d="M352.2 528.7h2.8" class="pm"/>
<path d="M374.2 528.7h2.8" class="pm"/>
<path d="M396.2 528.7h2.8" class="pm"/>
<path d="M418.2 528.7h2.8" class="pm"/>
<path d="M439.5 528.5h4.6M441.8 526.2v4.6" class="pm"/>
</g>
<g>
<text x="78.5" y="559.4" font-size="16.5" class="b">I</text>
<rect x="107" y="641.6" width="17.4" height="22.2" fill="#fff" class="br"/>
<path d="M115.7 663.8v2.9" class="tk"/>
<path d="M142.5 597V592.5M137.8 592.5H147.2" class="l"/>
<rect x="133.8" y="597.7" width="17.4" height="66.1" fill="#000" class="br"/>
<text x="142.5" y="593.82" font-size="12" class="b m as">**</text>
<path d="M142.5 663.8v2.9" class="tk"/>
<path d="M169.3 634.5V630M164.6 630H174" class="l"/>
<rect x="160.6" y="635.2" width="17.4" height="28.6" fill="url(#cI)" class="br"/>
<text x="169.3" y="626.8" font-size="8.8" class="b m ah">##</text>
<path d="M169.3 663.8v2.9" class="tk"/>
<path d="M196.1 591.2V583.7M191.4 583.7H200.8" class="l"/>
<rect x="187.4" y="591.9" width="17.4" height="71.9" fill="url(#cI)" class="br"/>
<path d="M196.1 663.8v2.9" class="tk"/>
<path d="M222.9 614.2V607.5M218.2 607.5H227.6" class="l"/>
<rect x="214.2" y="614.9" width="17.4" height="48.9" fill="url(#cI)" class="br"/>
<path d="M222.9 663.8v2.9" class="tk"/>
<path d="M102.6 574.3V663.8M101.9 663.8H236.5" class="l"/>
<path d="M102.6 575h-2.7" class="tk"/>
<text transform="translate(99.4 578.1) scale(1.0 1)" font-size="8.7" class="b e">4</text>
<path d="M102.6 597.2h-2.7" class="tk"/>
<text transform="translate(99.4 600.3) scale(1.0 1)" font-size="8.7" class="b e">3</text>
<path d="M102.6 619.4h-2.7" class="tk"/>
<text transform="translate(99.4 622.5) scale(1.0 1)" font-size="8.7" class="b e">2</text>
<path d="M102.6 641.6h-2.7" class="tk"/>
<text transform="translate(99.4 644.7) scale(1.0 1)" font-size="8.7" class="b e">1</text>
<path d="M102.6 663.8h-2.7" class="tk"/>
<text transform="translate(99.4 666.9) scale(1.0 1)" font-size="8.7" class="b e">0</text>
<text transform="translate(91.4 618) rotate(-90)" font-size="8.5" class="b m"><tspan font-style="italic">Blimp1</tspan> relative expression</text>
<text x="103.5" y="682.2" font-size="8.6" class="b e">ADM2:</text>
<path d="M114.3 679.5h2.8" class="pm"/>
<path d="M140.4 679.3h4.6M142.7 677v4.6" class="pm"/>
<path d="M167.2 679.3h4.6M169.5 677v4.6" class="pm"/>
<path d="M194 679.3h4.6M196.3 677v4.6" class="pm"/>
<path d="M220.8 679.3h4.6M223.1 677v4.6" class="pm"/>
<text x="103.5" y="691.8" font-size="8.6" class="b e">Rp-cAMPS:</text>
<path d="M114.3 689.1h2.8" class="pm"/>
<path d="M141.1 689.1h2.8" class="pm"/>
<path d="M167.2 688.9h4.6M169.5 686.6v4.6" class="pm"/>
<path d="M194.7 689.1h2.8" class="pm"/>
<path d="M221.5 689.1h2.8" class="pm"/>
<text x="103.5" y="701.4" font-size="8.6" class="b e">LY294002:</text>
<path d="M114.3 698.7h2.8" class="pm"/>
<path d="M141.1 698.7h2.8" class="pm"/>
<path d="M167.9 698.7h2.8" class="pm"/>
<path d="M194 698.5h4.6M196.3 696.2v4.6" class="pm"/>
<path d="M221.5 698.7h2.8" class="pm"/>
<text x="103.5" y="711" font-size="8.6" class="b e">Compound C:</text>
<path d="M114.3 708.3h2.8" class="pm"/>
<path d="M141.1 708.3h2.8" class="pm"/>
<path d="M167.9 708.3h2.8" class="pm"/>
<path d="M194.7 708.3h2.8" class="pm"/>
<path d="M220.8 708.1h4.6M223.1 705.8v4.6" class="pm"/>
</g>
</g>
</svg>
</body>
</html>
